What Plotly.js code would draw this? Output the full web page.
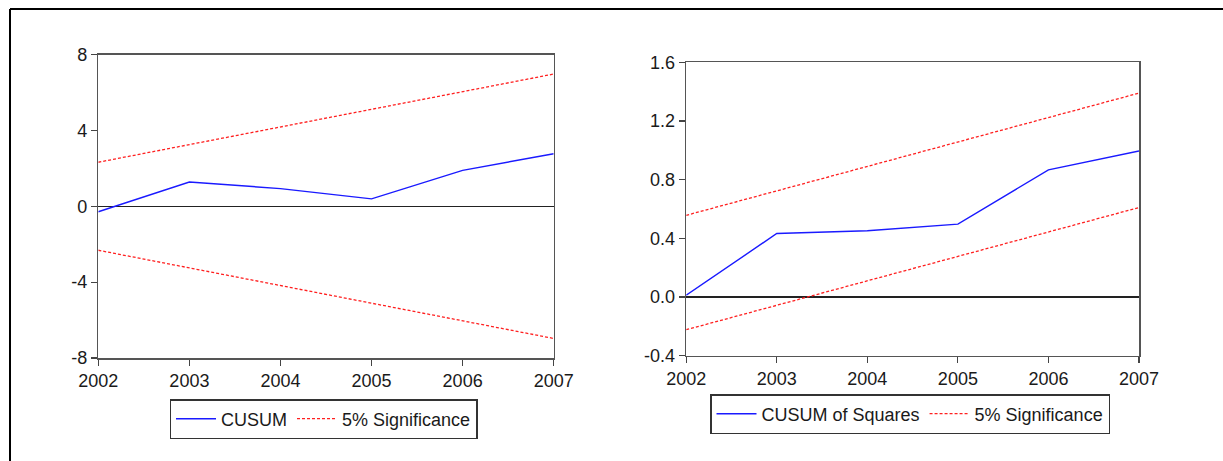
<!DOCTYPE html>
<html>
<head>
<meta charset="utf-8">
<script src="https://cdn.plot.ly/plotly-3.0.1.min.js"></script>
<style>
html,body{margin:0;padding:0;background:#fff;}
#chart{width:1223px;height:461px;}
</style>
</head>
<body>
<div id="chart"></div>
<script>
const years = [2002, 2003, 2004, 2005, 2006, 2007];
const cusum = [-0.29, 1.28, 0.93, 0.39, 1.89, 2.77];
const cusumUpper = [2.32, 3.25, 4.18, 5.11, 6.04, 6.97];
const cusumLower = [-2.32, -3.25, -4.18, -5.11, -6.04, -6.97];
const cusumSq = [0.012, 0.433, 0.452, 0.497, 0.867, 0.995];
const cusumSqUpper = [0.557, 0.723, 0.89, 1.057, 1.223, 1.39];
const cusumSqLower = [-0.223, -0.057, 0.11, 0.277, 0.443, 0.61];
const leftTicks = [-8, -4, 0, 4, 8];
const leftTickText = ['-8', '-4', '0', '4', '8'];
const rightTicks = [-0.4, 0.0, 0.4, 0.8, 1.2, 1.6];
const rightTickText = ['-0.4', '0.0', '0.4', '0.8', '1.2', '1.6'];

const W = 1223, H = 461;
const px = v => v / W;
const py = v => 1 - v / H;

const blue = {color: '#1a1aff', width: 1.4};
const red = {color: '#ff2020', width: 1.3, dash: '3px,2px'};

const traces = [
  {x: years, y: cusum, type: 'scatter', mode: 'lines', name: 'CUSUM', line: blue, xaxis: 'x', yaxis: 'y', legend: 'legend'},
  {x: years, y: cusumUpper, type: 'scatter', mode: 'lines', name: '5% Significance', line: red, xaxis: 'x', yaxis: 'y', legend: 'legend'},
  {x: years, y: cusumLower, type: 'scatter', mode: 'lines', name: '5% Significance', line: red, xaxis: 'x', yaxis: 'y', showlegend: false},
  {x: years, y: cusumSq, type: 'scatter', mode: 'lines', name: 'CUSUM of Squares', line: blue, xaxis: 'x2', yaxis: 'y2', legend: 'legend2'},
  {x: years, y: cusumSqUpper, type: 'scatter', mode: 'lines', name: '5% Significance', line: red, xaxis: 'x2', yaxis: 'y2', legend: 'legend2'},
  {x: years, y: cusumSqLower, type: 'scatter', mode: 'lines', name: '5% Significance', line: red, xaxis: 'x2', yaxis: 'y2', showlegend: false, legend: 'legend2'}
];

const fam = 'Arial, Liberation Sans, sans-serif';
const tickFont = {family: fam, size: 18, color: '#1a1a1a'};
const axBase = {
  showline: true, mirror: true, linecolor: '#555', linewidth: 1.5,
  ticks: 'outside', ticklen: 6, tickwidth: 1.2, tickcolor: '#444',
  showgrid: false, tickfont: tickFont, fixedrange: true
};
const xBase = Object.assign({}, axBase, {tickvals: years, ticktext: years.map(String), zeroline: false, ticklabelstandoff: 0});
const legendBase = {
  orientation: 'h', xanchor: 'left', yanchor: 'top',
  bordercolor: '#333', borderwidth: 1.5, bgcolor: '#fff',
  font: {family: fam, size: 18, color: '#1a1a1a'},
  itemwidth: 40, traceorder: 'normal', tracegroupgap: 0
};

const layout = {
  width: W, height: H,
  margin: {l: 0, r: 0, t: 0, b: 0, pad: 0},
  paper_bgcolor: '#fff', plot_bgcolor: '#fff',
  showlegend: true,
  xaxis: Object.assign({}, xBase, {domain: [px(98.3), px(553.7)], range: [2002, 2007], anchor: 'y'}),
  yaxis: Object.assign({}, axBase, {domain: [py(358), py(54.5)], range: [-8, 8], tickvals: leftTicks, ticktext: leftTickText, anchor: 'x',
    zeroline: true, zerolinecolor: '#222', zerolinewidth: 1.2, ticklabelstandoff: 0}),
  xaxis2: Object.assign({}, xBase, {domain: [px(686.2), px(1139)], range: [2002, 2007], anchor: 'y2'}),
  yaxis2: Object.assign({}, axBase, {domain: [py(355.7), py(62.3)], range: [-0.4, 1.6], tickvals: rightTicks, ticktext: rightTickText, anchor: 'x2',
    zeroline: true, zerolinecolor: '#222', zerolinewidth: 1.2, ticklabelstandoff: 0}),
  legend: Object.assign({}, legendBase, {x: px(169.5), y: py(399)}),
  legend2: Object.assign({}, legendBase, {x: px(710), y: py(394)}),
  shapes: [
    {type: 'line', xref: 'paper', yref: 'paper', x0: px(10), x1: 1, y0: py(9), y1: py(9), line: {color: '#000', width: 2}},
    {type: 'line', xref: 'paper', yref: 'paper', x0: px(10), x1: px(10), y0: py(9), y1: 0, line: {color: '#000', width: 2}}
  ]
};

Plotly.newPlot('chart', traces, layout, {displayModeBar: false, staticPlot: true});
</script>
</body>
</html>
